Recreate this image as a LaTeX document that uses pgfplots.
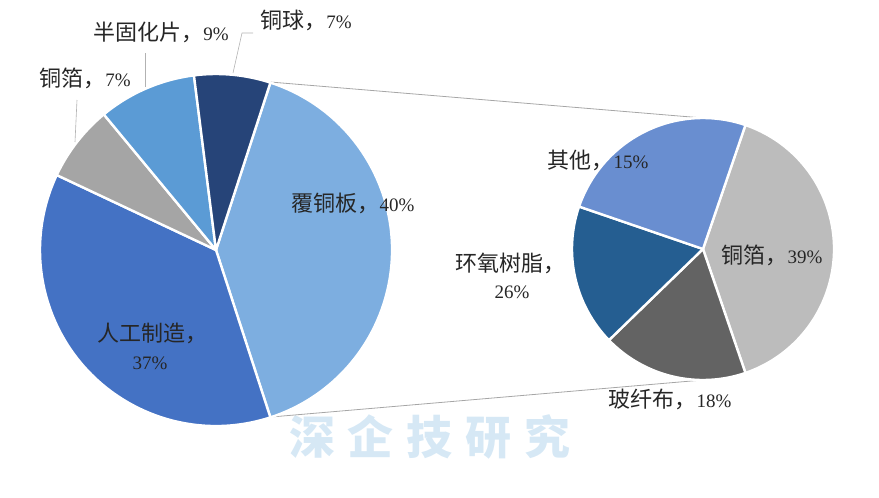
\documentclass[border=0pt]{standalone}
\usepackage{pgfplots}
\usepackage{pgfplotstable}
\pgfplotsset{compat=1.18}
\usepackage{fontspec}
\setmainfont{Liberation Serif}
\newfontfamily\cjk{Noto Sans CJK SC}

\definecolor{cA}{HTML}{7DAEE0}
\definecolor{cB}{HTML}{4472C4}
\definecolor{cC}{HTML}{A5A5A5}
\definecolor{cD}{HTML}{5B9BD5}
\definecolor{cE}{HTML}{264478}
\definecolor{rA}{HTML}{BCBCBC}
\definecolor{rB}{HTML}{636363}
\definecolor{rC}{HTML}{255E91}
\definecolor{rD}{HTML}{698ED0}
\definecolor{wm}{HTML}{D6E8F5}
\definecolor{txt}{HTML}{262626}

% left pie: 覆铜板, 人工制造, 铜箔, 半固化片, 铜球
\pgfplotstableread{
value col
40 cA
37 cB
7 cC
9 cD
7 cE
}\leftpie
% right pie: 铜箔, 玻纤布, 环氧树脂, 其他
\pgfplotstableread{
value col
39.5 rA
18 rB
17.5 rC
25 rD
}\rightpie

\newcommand\drawpie[5]{%
  \pgfplotstablegetrowsof{#1}%
  \pgfmathtruncatemacro\nrows{\pgfplotsretval-1}%
  \xdef\curangle{#5}%
  \foreach \i in {0,...,\nrows}{%
    \pgfplotstablegetelem{\i}{value}\of{#1}\let\sliceval\pgfplotsretval
    \pgfplotstablegetelem{\i}{col}\of{#1}\let\slicecol\pgfplotsretval
    \pgfmathsetmacro\endangle{\curangle-3.6*\sliceval}%
    \edef\temp{\noexpand\fill[\slicecol, draw=white, line width=2.4pt, line join=round]
      (axis cs:#2,#3) -- ++(\curangle:#4pt)
      arc[start angle=\curangle, end angle=\endangle, radius=#4pt] -- cycle;}%
    \temp
    \xdef\curangle{\endangle}%
  }%
}
\newcommand\ck[1]{{\cjk\fontsize{22}{26}\selectfont #1}}

\begin{document}
\begin{tikzpicture}
\begin{axis}[
  scale only axis, width=879pt, height=498pt,
  xmin=0, xmax=879, ymin=0, ymax=498, y dir=reverse,
  hide axis, clip=false]
\addplot[draw=none, forget plot] coordinates {(0,0) (879,498)};
\path (axis cs:0,0) rectangle (axis cs:879,498);

% watermark text
\node[text=wm, font=\cjk\bfseries\fontsize{46}{46}\selectfont] at (axis cs:430,437)
  {深\hspace{13pt}企\hspace{13pt}技\hspace{13pt}研\hspace{13pt}究};

% connector lines
\draw[gray!70, line width=0.8pt] (axis cs:270,82) -- (axis cs:703,118);
\draw[gray!70, line width=0.8pt] (axis cs:271,417) -- (axis cs:703,380);

\drawpie{\leftpie}{216}{250}{176}{72}
\drawpie{\rightpie}{703}{249}{131}{71.1}

% leader lines
\draw[gray!60, line width=0.6pt] (axis cs:233,73) -- (axis cs:242,33) -- (axis cs:253,33);
\draw[gray!60, line width=0.6pt] (axis cs:145,87) -- (axis cs:145,53);
\draw[gray!60, line width=0.6pt] (axis cs:75,142) -- (axis cs:77,100);

% labels
\begin{scope}[every node/.style={text=txt, font=\fontsize{19}{23}\selectfont, inner sep=0pt}]
\node at (axis cs:306,20) {\ck{铜球，}7\%};
\node at (axis cs:161,32) {\ck{半固化片，}9\%};
\node at (axis cs:85,78) {\ck{铜箔，}7\%};
\node at (axis cs:353,203) {\ck{覆铜板，}40\%};
\node at (axis cs:152,333) {\ck{人工制造，}};
\node at (axis cs:150,363) {37\%};
\node at (axis cs:598,160) {\ck{其他，}15\%};
\node at (axis cs:772,255) {\ck{铜箔，}39\%};
\node at (axis cs:510,263) {\ck{环氧树脂，}};
\node at (axis cs:512,292) {26\%};
\node at (axis cs:670,399) {\ck{玻纤布，}18\%};
\end{scope}
\end{axis}
\end{tikzpicture}
\end{document}
